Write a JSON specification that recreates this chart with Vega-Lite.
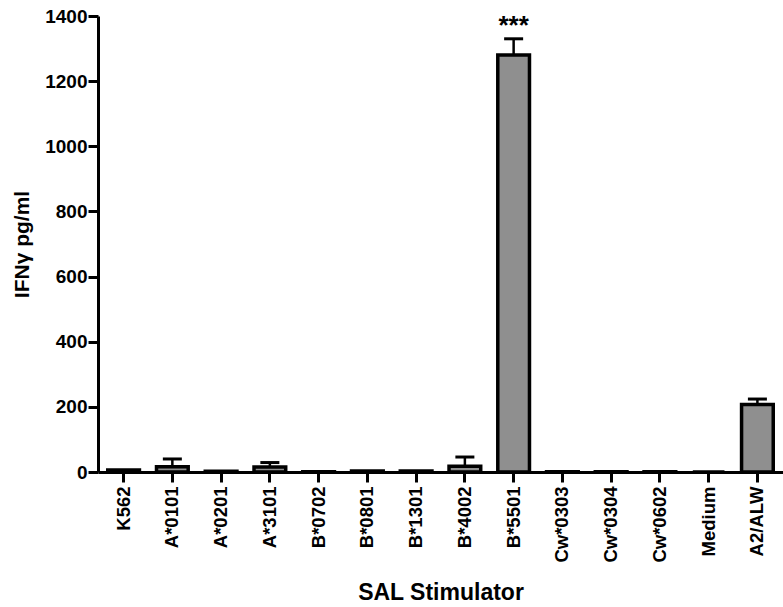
{
  "$schema": "https://vega.github.io/schema/vega-lite/v6.json",
  "width": 685,
  "height": 456,
  "autosize": "none",
  "padding": {"left": 98, "top": 16, "right": 0, "bottom": 135},
  "config": {"view": {"stroke": null}, "font": "Liberation Sans"},
  "data": {
    "values": [
      {"stim": "K562", "value": 6, "upper": 6, "sig": ""},
      {"stim": "A*0101", "value": 16, "upper": 40, "sig": ""},
      {"stim": "A*0201", "value": 2, "upper": 2, "sig": ""},
      {"stim": "A*3101", "value": 15, "upper": 29, "sig": ""},
      {"stim": "B*0702", "value": 1, "upper": 1, "sig": ""},
      {"stim": "B*0801", "value": 3, "upper": 3, "sig": ""},
      {"stim": "B*1301", "value": 3, "upper": 3, "sig": ""},
      {"stim": "B*4002", "value": 18, "upper": 46, "sig": ""},
      {"stim": "B*5501", "value": 1280, "upper": 1330, "sig": "***"},
      {"stim": "Cw*0303", "value": 0.5, "upper": 0.5, "sig": ""},
      {"stim": "Cw*0304", "value": 1, "upper": 1, "sig": ""},
      {"stim": "Cw*0602", "value": 1, "upper": 1, "sig": ""},
      {"stim": "Medium", "value": 0, "upper": 0, "sig": ""},
      {"stim": "A2/ALW", "value": 207, "upper": 224, "sig": ""}
    ]
  },
  "encoding": {
    "x": {
      "field": "stim",
      "type": "nominal",
      "sort": null,
      "scale": {"paddingInner": 0.35, "paddingOuter": 0.2},
      "axis": {
        "title": "SAL Stimulator",
        "titleFontSize": 23,
        "titleFontWeight": "bold",
        "titleColor": "black",
        "titlePadding": 19,
        "labelAngle": -90,
        "labelAlign": "right",
        "labelBaseline": "middle",
        "labelFontSize": 18.5,
        "labelFontWeight": "bold",
        "labelColor": "black",
        "labelPadding": 4,
        "tickSize": 10,
        "tickWidth": 3,
        "tickColor": "black",
        "domainWidth": 3,
        "domainColor": "black"
      }
    }
  },
  "layer": [
    {
      "mark": {"type": "bar", "fill": "#8f8f8f", "stroke": "black", "strokeWidth": 3.5},
      "encoding": {
        "y": {
          "field": "value",
          "type": "quantitative",
          "scale": {"domain": [0, 1400], "nice": false},
          "axis": {
            "values": [0, 200, 400, 600, 800, 1000, 1200, 1400],
            "format": "d",
            "grid": false,
            "title": "IFNγ pg/ml",
            "titleFontSize": 21,
            "titleFontWeight": "bold",
            "titleColor": "black",
            "titlePadding": 12,
            "labelFontSize": 19,
            "labelFontWeight": "bold",
            "labelColor": "black",
            "labelPadding": 1,
            "tickSize": 10,
            "tickWidth": 3,
            "tickColor": "black",
            "domainWidth": 3,
            "domainColor": "black"
          }
        }
      }
    },
    {
      "transform": [{"filter": "datum.upper > datum.value"}],
      "mark": {"type": "rule", "strokeWidth": 2.5, "color": "black"},
      "encoding": {
        "y": {"field": "value", "type": "quantitative"},
        "y2": {"field": "upper"}
      }
    },
    {
      "transform": [{"filter": "datum.upper > datum.value"}],
      "mark": {"type": "tick", "orient": "horizontal", "size": 19, "thickness": 3, "color": "black", "opacity": 1},
      "encoding": {
        "y": {"field": "upper", "type": "quantitative"}
      }
    },
    {
      "transform": [{"filter": "datum.sig != ''"}],
      "mark": {"type": "text", "fontSize": 26, "fontWeight": "bold", "baseline": "bottom", "dy": 0, "color": "black"},
      "encoding": {
        "y": {"field": "upper", "type": "quantitative"},
        "text": {"field": "sig"}
      }
    }
  ]
}
